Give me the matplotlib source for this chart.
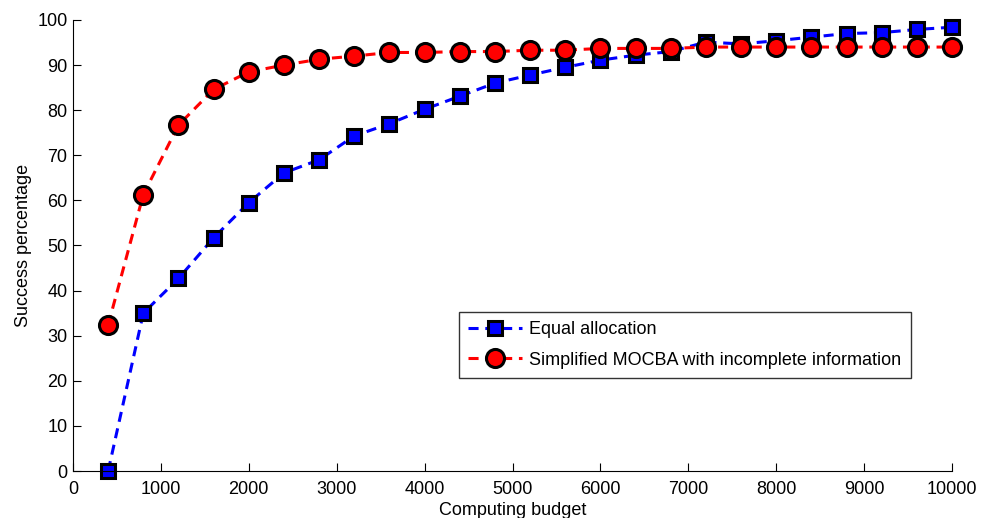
import matplotlib
matplotlib.use('Agg')
import matplotlib.pyplot as plt

plt.rcParams['font.family'] = ['Liberation Sans', 'DejaVu Sans']

budget = [400, 800, 1200, 1600, 2000, 2400, 2800, 3200, 3600, 4000, 4400, 4800, 5200,
          5600, 6000, 6400, 6800, 7200, 7600, 8000, 8400, 8800, 9200, 9600, 10000]
equal = [0, 35.0, 42.7, 51.7, 59.5, 66.1, 69.0, 74.3, 77.0, 80.2, 83.1, 86.0, 87.8,
         89.5, 91.1, 92.2, 93.0, 95.1, 94.7, 95.4, 96.2, 97.0, 97.2, 97.9, 98.4]
mocba = [32.4, 61.3, 76.7, 84.6, 88.5, 90.0, 91.3, 92.0, 92.8, 92.8, 93.0, 93.0, 93.3,
         93.3, 93.7, 93.7, 93.7, 94.0, 94.0, 94.0, 94.0, 94.0, 94.0, 94.0, 94.0]

fig = plt.figure(figsize=(9.84, 5.18), dpi=100)
ax = fig.add_axes([73/984, 47/518, 879/984, 451/518])

ax.plot(budget, equal, '--s', color='#0000ff', lw=2.2, dashes=(3.3, 2.2),
        ms=10.5, mfc='#0000ff', mec='black', mew=2.2, clip_on=False,
        label='Equal allocation')
ax.plot(budget, mocba, '--o', color='#ff0000', lw=2.2, dashes=(3.3, 2.2),
        ms=13, mfc='#ff0000', mec='black', mew=2.2, clip_on=False,
        label='Simplified MOCBA with incomplete information')

ax.set_xlim(0, 10000)
ax.set_ylim(0, 100)
ax.set_xticks(range(0, 10001, 1000))
ax.set_yticks(range(0, 101, 10))
ax.tick_params(direction='in', labelsize=13, length=6, width=0.8)
ax.tick_params(axis='x', pad=7)
ax.tick_params(axis='y', pad=4)
ax.spines['top'].set_visible(False)
ax.spines['right'].set_visible(False)
ax.set_xlabel('Computing budget', fontsize=13, labelpad=3)
ax.set_ylabel('Success percentage', fontsize=13, labelpad=4)

leg = ax.legend(loc='upper left', bbox_to_anchor=(459/984, 1 - 312/518),
                bbox_transform=fig.transFigure, borderaxespad=0, fontsize=13,
                fancybox=False, edgecolor='black', handlelength=3.0,
                borderpad=0.5, labelspacing=0.75, handletextpad=0.4)
leg.get_frame().set_linewidth(1.0)

fig.savefig('out.png', dpi=100)
